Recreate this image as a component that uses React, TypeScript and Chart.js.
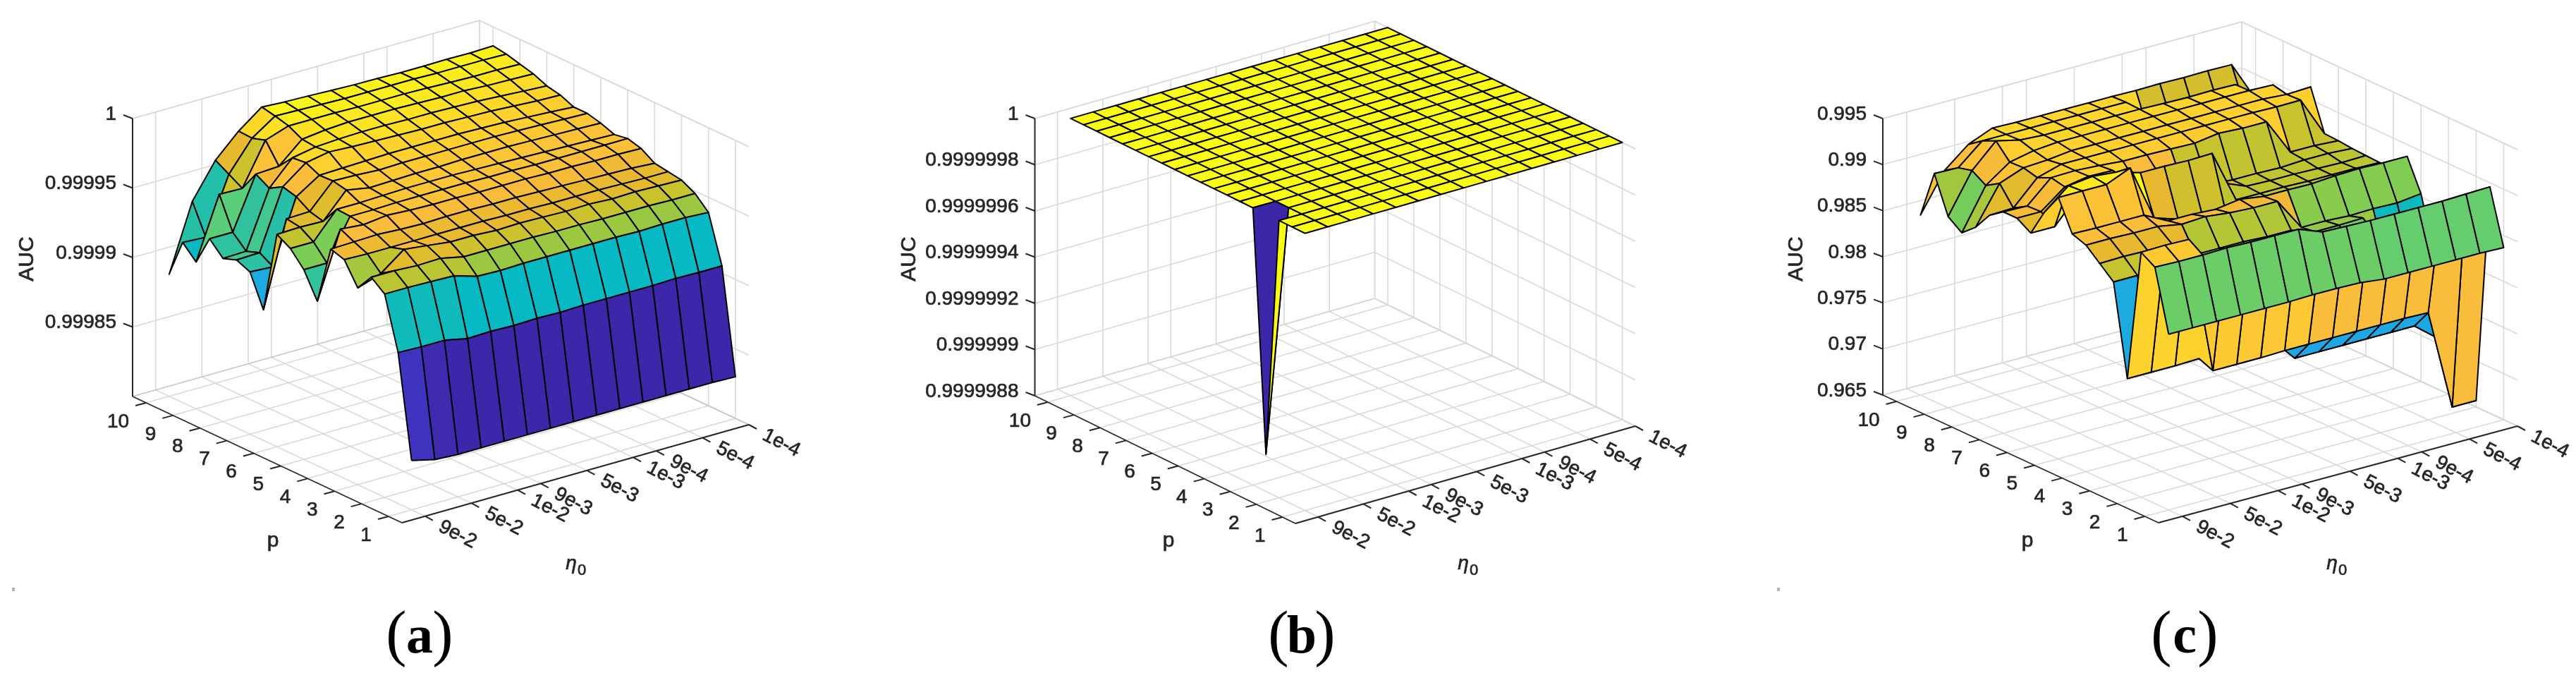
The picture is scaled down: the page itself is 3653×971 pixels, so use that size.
import React, { useEffect, useRef } from 'react';
import { Chart, registerables } from 'chart.js';

Chart.register(...registerables);

const pLabels = ['1', '2', '3', '4', '5', '6', '7', '8', '9', '10'];
const etaLabels = ['9e-2', '5e-2', '1e-2', '9e-3', '5e-3', '1e-3', '9e-4', '5e-4', '1e-4'];
// position of each eta label among the 15 learning rates
const etaLabelIndex = [0, 2, 4, 5, 7, 9, 10, 12, 14];

const zTicksA = [1, 0.99995, 0.9999, 0.99985];
const zLabelsA = ['1', '0.99995', '0.9999', '0.99985'];
const zTicksB = [1, 0.9999998, 0.9999996, 0.9999994, 0.9999992, 0.999999, 0.9999988];
const zLabelsB = ['1', '0.9999998', '0.9999996', '0.9999994', '0.9999992', '0.999999', '0.9999988'];
const zTicksC = [0.995, 0.99, 0.985, 0.98, 0.975, 0.97, 0.965];
const zLabelsC = ['0.995', '0.99', '0.985', '0.98', '0.975', '0.97', '0.965'];

// rows: p = 1, 1.5, ... 10 / columns: eta from 9e-2 down to 1e-4
const aucA = [
  [0.9998355, 0.9998315, 0.9998305, 0.9998305, 0.9998305, 0.9998305, 0.9998305, 0.9998305, 0.9998305, 0.9998305, 0.9998305, 0.9998305, 0.9998305, 0.9998305, 0.9998299],
  [0.9999086, 0.9999081, 0.9999081, 0.9999046, 0.9999051, 0.9999046, 0.9999051, 0.9999046, 0.9999051, 0.9999051, 0.9999051, 0.9999051, 0.9999056, 0.9999051, 0.9999051],
  [0.9999462, 0.9999462, 0.9999457, 0.9999452, 0.9999401, 0.9999396, 0.9999401, 0.9999401, 0.9999401, 0.9999401, 0.9999401, 0.9999396, 0.9999401, 0.9999401, 0.9999391],
  [0.9999538, 0.9999538, 0.9999528, 0.9999533, 0.9999497, 0.9999497, 0.9999497, 0.9999497, 0.9999492, 0.9999492, 0.9999487, 0.9999487, 0.9999487, 0.9999482, 0.9999482],
  [0.9999416, 0.9999472, 0.9999599, 0.9999579, 0.9999558, 0.9999558, 0.9999548, 0.9999553, 0.9999548, 0.9999543, 0.9999548, 0.9999538, 0.9999543, 0.9999538, 0.9999533],
  [0.9999574, 0.9999568, 0.9999568, 0.9999568, 0.9999568, 0.9999568, 0.9999568, 0.9999563, 0.9999563, 0.9999558, 0.9999558, 0.9999558, 0.9999553, 0.9999548, 0.9999548],
  [0.9999604, 0.9999609, 0.9999614, 0.9999604, 0.9999599, 0.9999604, 0.9999604, 0.9999599, 0.9999599, 0.9999594, 0.9999589, 0.9999584, 0.9999579, 0.9999574, 0.9999563],
  [0.9999183, 0.9999655, 0.999964, 0.999966, 0.999965, 0.9999645, 0.9999645, 0.999964, 0.999964, 0.999964, 0.9999634, 0.9999634, 0.9999629, 0.9999629, 0.9999624],
  [0.9999365, 0.9999365, 0.9999655, 0.9999655, 0.999966, 0.999966, 0.999966, 0.999966, 0.9999655, 0.9999655, 0.999965, 0.999965, 0.999965, 0.999965, 0.999965],
  [0.9999472, 0.9999472, 0.999966, 0.999966, 0.9999665, 0.999967, 0.999967, 0.999967, 0.9999665, 0.999966, 0.9999655, 0.999965, 0.9999645, 0.999964, 0.9999634],
  [0.9999528, 0.9999533, 0.9999528, 0.9999706, 0.9999675, 0.999968, 0.9999685, 0.9999685, 0.999969, 0.999969, 0.999969, 0.9999685, 0.999968, 0.9999675, 0.999967],
  [0.9998939, 0.9999548, 0.9999553, 0.9999726, 0.9999721, 0.9999711, 0.9999716, 0.9999716, 0.9999716, 0.9999716, 0.9999716, 0.9999711, 0.9999706, 0.99997, 0.9999695],
  [0.9999167, 0.9999157, 0.9999614, 0.9999721, 0.9999726, 0.9999731, 0.9999736, 0.9999736, 0.9999736, 0.9999736, 0.9999731, 0.9999726, 0.9999716, 0.9999706, 0.9999695],
  [0.9999208, 0.9999213, 0.999964, 0.9999766, 0.9999797, 0.9999787, 0.9999782, 0.9999777, 0.9999772, 0.9999772, 0.9999766, 0.9999761, 0.9999751, 0.9999741, 0.9999736],
  [0.9999173, 0.9999178, 0.9999584, 0.9999756, 0.9999787, 0.9999797, 0.9999802, 0.9999802, 0.9999797, 0.9999797, 0.9999792, 0.9999787, 0.9999777, 0.9999766, 0.9999756],
  [0.9999269, 0.9999269, 0.999964, 0.999965, 0.9999797, 0.9999817, 0.9999827, 0.9999827, 0.9999827, 0.9999822, 0.9999817, 0.9999817, 0.9999807, 0.9999802, 0.9999797],
  [0.9999056, 0.9999497, 0.9999492, 0.9999792, 0.9999848, 0.9999848, 0.9999848, 0.9999843, 0.9999843, 0.9999843, 0.9999838, 0.9999832, 0.9999827, 0.9999827, 0.9999822],
  [0.9999152, 0.9999142, 0.9999548, 0.9999761, 0.9999873, 0.9999868, 0.9999863, 0.9999858, 0.9999858, 0.9999858, 0.9999858, 0.9999853, 0.9999853, 0.9999853, 0.9999848],
  [0.9998878, 0.9999355, 0.9999604, 0.9999766, 0.9999893, 0.9999883, 0.9999878, 0.9999871, 0.9999865, 0.9999863, 0.9999858, 0.9999858, 0.999986, 0.9999858, 0.9999863],
];

const aucB = [
  [1, 1, 1, 1, 1, 1, 1, 1, 1, 1, 1, 1, 1, 1, 1],
  [1, 1, 1, 1, 1, 1, 1, 1, 1, 1, 1, 1, 1, 1, 1],
  [1, 1, 1, 1, 1, 1, 1, 1, 1, 1, 1, 1, 1, 1, 1],
  [0.99999896, 1, 1, 1, 1, 1, 1, 1, 1, 1, 1, 1, 1, 1, 1],
  [1, 1, 1, 1, 1, 1, 1, 1, 1, 1, 1, 1, 1, 1, 1],
  [1, 1, 1, 1, 1, 1, 1, 1, 1, 1, 1, 1, 1, 1, 1],
  [1, 1, 1, 1, 1, 1, 1, 1, 1, 1, 1, 1, 1, 1, 1],
  [1, 1, 1, 1, 1, 1, 1, 1, 1, 1, 1, 1, 1, 1, 1],
  [1, 1, 1, 1, 1, 1, 1, 1, 1, 1, 1, 1, 1, 1, 1],
  [1, 1, 1, 1, 1, 1, 1, 1, 1, 1, 1, 1, 1, 1, 1],
  [1, 1, 1, 1, 1, 1, 1, 1, 1, 1, 1, 1, 1, 1, 1],
  [1, 1, 1, 1, 1, 1, 1, 1, 1, 1, 1, 1, 1, 1, 1],
  [1, 1, 1, 1, 1, 1, 1, 1, 1, 1, 1, 1, 1, 1, 1],
  [1, 1, 1, 1, 1, 1, 1, 1, 1, 1, 1, 1, 1, 1, 1],
  [1, 1, 1, 1, 1, 1, 1, 1, 1, 1, 1, 1, 1, 1, 1],
  [1, 1, 1, 1, 1, 1, 1, 1, 1, 1, 1, 1, 1, 1, 1],
  [1, 1, 1, 1, 1, 1, 1, 1, 1, 1, 1, 1, 1, 1, 1],
  [1, 1, 1, 1, 1, 1, 1, 1, 1, 1, 1, 1, 1, 1, 1],
  [1, 1, 1, 1, 1, 1, 1, 1, 1, 1, 1, 1, 1, 1, 1],
];

const aucC = [
  [0.98406, 0.98406, 0.98406, 0.98406, 0.98406, 0.98406, 0.98413, 0.98413, 0.98406, 0.98375, 0.98375, 0.98375, 0.98375, 0.98375, 0.98367],
  [0.99064, 0.99056, 0.99056, 0.99064, 0.99056, 0.99056, 0.99056, 0.98957, 0.98949, 0.98941, 0.98941, 0.98941, 0.98941, 0.98949, 0.98957],
  [0.99156, 0.99163, 0.99156, 0.97663, 0.97663, 0.97663, 0.97671, 0.97671, 0.97671, 0.97671, 0.97671, 0.97671, 0.97663, 0.96569, 0.96569],
  [0.97717, 0.97717, 0.97717, 0.97724, 0.97724, 0.97724, 0.97724, 0.97449, 0.97449, 0.97449, 0.97449, 0.97449, 0.97449, 0.97242, 0.97242],
  [0.98696, 0.98696, 0.98696, 0.98696, 0.98696, 0.98696, 0.98413, 0.98413, 0.98413, 0.98413, 0.98413, 0.98413, 0.98413, 0.98413, 0.98413],
  [0.98827, 0.98834, 0.98827, 0.98834, 0.98643, 0.98643, 0.98643, 0.98628, 0.98628, 0.98543, 0.98543, 0.98551, 0.97954, 0.97954, 0.97954],
  [0.98957, 0.98957, 0.98949, 0.98949, 0.98903, 0.98918, 0.98888, 0.98872, 0.98872, 0.9852, 0.9852, 0.98505, 0.98513, 0.98505, 0.98536],
  [0.9901, 0.99003, 0.99003, 0.99003, 0.98872, 0.98872, 0.98857, 0.98895, 0.98857, 0.98857, 0.98853, 0.98872, 0.9888, 0.98872, 0.98872],
  [0.99335, 0.99336, 0.99335, 0.99446, 0.98834, 0.9875, 0.98735, 0.98681, 0.98673, 0.98673, 0.98673, 0.98673, 0.98673, 0.98673, 0.98673],
  [0.9911, 0.99324, 0.99355, 0.99332, 0.99255, 0.99255, 0.99247, 0.99255, 0.98681, 0.98681, 0.98681, 0.98673, 0.98673, 0.98673, 0.98666],
  [0.98811, 0.98811, 0.99102, 0.9914, 0.98796, 0.98796, 0.98796, 0.98796, 0.98796, 0.98689, 0.98681, 0.98681, 0.98673, 0.98666, 0.98673],
  [0.98903, 0.98903, 0.99102, 0.99148, 0.9914, 0.98934, 0.98934, 0.98719, 0.98704, 0.98689, 0.98689, 0.98681, 0.98696, 0.98696, 0.98681],
  [0.98903, 0.98895, 0.99133, 0.9914, 0.99125, 0.99102, 0.99102, 0.99094, 0.99087, 0.99125, 0.9911, 0.9911, 0.98712, 0.98712, 0.98696],
  [0.98796, 0.98804, 0.99064, 0.9914, 0.9914, 0.9914, 0.9914, 0.9914, 0.9914, 0.9914, 0.9914, 0.9914, 0.99133, 0.99136, 0.98704],
  [0.98597, 0.99003, 0.99102, 0.99117, 0.99148, 0.99148, 0.99148, 0.99148, 0.99148, 0.99148, 0.99148, 0.99148, 0.99148, 0.99129, 0.9914],
  [0.98467, 0.98911, 0.99094, 0.99148, 0.99171, 0.99171, 0.99171, 0.99171, 0.99171, 0.99171, 0.99171, 0.99171, 0.99171, 0.99163, 0.98796],
  [0.98574, 0.99003, 0.99255, 0.99194, 0.99179, 0.99179, 0.99179, 0.99179, 0.99179, 0.99171, 0.99167, 0.99171, 0.99167, 0.98796, 0.98758],
  [0.98972, 0.98964, 0.99186, 0.99186, 0.99186, 0.99186, 0.99186, 0.99186, 0.99186, 0.98758, 0.98758, 0.98758, 0.98758, 0.98758, 0.98735],
  [0.98452, 0.98865, 0.99079, 0.99186, 0.99179, 0.99179, 0.99179, 0.99179, 0.99179, 0.99175, 0.99179, 0.99175, 0.99179, 0.99175, 0.98735],
];

// parula-like colormap as seen in the figure: stop, r, g, b
const colorStops = [
  [0, 60, 38, 168],
  [0.1, 70, 75, 235],
  [0.3, 35, 150, 240],
  [0.4, 28, 170, 225],
  [0.47, 5, 185, 195],
  [0.54, 40, 192, 165],
  [0.6, 85, 205, 125],
  [0.67, 125, 205, 85],
  [0.69, 155, 200, 65],
  [0.745, 200, 195, 45],
  [0.78, 228, 185, 45],
  [0.82, 250, 187, 60],
  [0.9, 253, 210, 45],
  [1, 249, 251, 21],
];

const colormap = (t: number) => {
  for (let i = 1; i < colorStops.length; i++) {
    const a = colorStops[i - 1];
    const b = colorStops[i];
    if (t <= b[0]) {
      const k = (t - a[0]) / (b[0] - a[0]);
      return `rgb(${a[1] + (b[1] - a[1]) * k},${a[2] + (b[2] - a[2]) * k},${a[3] + (b[3] - a[3]) * k})`;
    }
  }
  return 'rgb(249,251,21)';
};

interface PanelConfig {
  auc: number[][];
  zTicks: number[];
  zLabels: string[];
  zMin: number;
  zMax: number;
  left: number; // canvas left edge
  width: number;
  front: { x: number; y: number };
  back: { x: number; y: number }; // p = 10.5 end of the eta = first edge
  right: { x: number; y: number };
  zHeight: number;
  caption: string;
  captionX: number;
  aucX: number;
  pX: number;
  etaX: number;
  speckX?: number;
}

const panels: PanelConfig[] = [
  {
    auc: aucA, zTicks: zTicksA, zLabels: zLabelsA, zMin: 0.9998, zMax: 1,
    left: 0, width: 1220,
    front: { x: 570, y: 741 }, back: { x: 188, y: 562 }, right: { x: 1062, y: 602 }, zHeight: 394,
    caption: 'a', captionX: 595, aucX: 39, pX: 387, etaX: 817, speckX: 17,
  },
  {
    auc: aucB, zTicks: zTicksB, zLabels: zLabelsB, zMin: 0.9999988, zMax: 1,
    left: 1220, width: 1220,
    front: { x: 1837, y: 742 }, back: { x: 1467.5, y: 561 }, right: { x: 2319, y: 604 }, zHeight: 393,
    caption: 'b', captionX: 1846, aucX: 1290, pX: 1657, etaX: 2082,
  },
  {
    auc: aucC, zTicks: zTicksC, zLabels: zLabelsC, zMin: 0.965, zMax: 0.995,
    left: 2440, width: 1213,
    front: { x: 3061, y: 741 }, back: { x: 2670, y: 560 }, right: { x: 3570, y: 604 }, zHeight: 392,
    caption: 'c', captionX: 3098, aucX: 2548, pX: 2875, etaX: 3314, speckX: 2520,
  },
];

const P_RANGE = 10; // p axis runs 0.5 .. 10.5
const ETA_RANGE = 15; // eta axis runs 0 .. 15, values sit on 1 .. 15
const GRID = '#d9d9d9';
const AXIS = '#262626';

const project = (cfg: PanelConfig, p: number, eta: number, z: number) => {
  const u = (p - 0.5) / P_RANGE;
  const v = eta / ETA_RANGE;
  const w = (z - cfg.zMin) / (cfg.zMax - cfg.zMin);
  return {
    x: cfg.front.x + u * (cfg.back.x - cfg.front.x) + v * (cfg.right.x - cfg.front.x),
    y: cfg.front.y + u * (cfg.back.y - cfg.front.y) + v * (cfg.right.y - cfg.front.y) - w * cfg.zHeight,
  };
};

const lineSet = (data: { x: number; y: number }[], color: string, width: number) => ({
  data,
  borderColor: color,
  borderWidth: width,
  pointRadius: 0,
  tension: 0,
  fill: false,
  clip: false,
});

const buildDatasets = (cfg: PanelConfig) => {
  const sets: any[] = [];
  const flat = cfg.auc.flat();
  const lo = Math.min(...flat);
  const hi = Math.max(...flat);
  const rowToP = (r: number) => 1 + r / 2;

  // nearest cell first: chart.js paints the last dataset first
  for (let r = 0; r < cfg.auc.length - 1; r++) {
    for (let c = 0; c < cfg.auc[r].length - 1; c++) {
      const corners = [
        project(cfg, rowToP(r), c + 1, cfg.auc[r][c]),
        project(cfg, rowToP(r), c + 2, cfg.auc[r][c + 1]),
        project(cfg, rowToP(r + 1), c + 2, cfg.auc[r + 1][c + 1]),
        project(cfg, rowToP(r + 1), c + 1, cfg.auc[r + 1][c]),
      ];
      sets.push({
        data: [...corners, corners[0]],
        borderColor: '#000000',
        borderWidth: 2,
        borderJoinStyle: 'round',
        backgroundColor: colormap((cfg.auc[r][c] - lo) / (hi - lo || 1)),
        pointRadius: 0,
        tension: 0,
        fill: 'shape',
        clip: false,
      });
    }
  }

  const { zMin, zMax } = cfg;
  const pEnd = 0.5 + P_RANGE;

  // axes and tick marks
  sets.push(lineSet([project(cfg, pEnd, 0, zMin), project(cfg, pEnd, 0, zMax)], AXIS, 2));
  sets.push(lineSet([project(cfg, pEnd, 0, zMin), project(cfg, 0.5, 0, zMin)], AXIS, 1.6));
  sets.push(lineSet([project(cfg, 0.5, 0, zMin), project(cfg, 0.5, ETA_RANGE, zMin)], AXIS, 2.2));
  cfg.zTicks.forEach((z) => {
    const a = project(cfg, pEnd, 0, z);
    sets.push(lineSet([a, { x: a.x - 13, y: a.y - 5 }], AXIS, 2));
  });
  pLabels.forEach((label) => {
    const a = project(cfg, Number(label), 0, zMin);
    sets.push(lineSet([a, { x: a.x - 15, y: a.y + 4 }], AXIS, 2));
  });
  etaLabelIndex.forEach((i) => {
    const a = project(cfg, 0.5, i + 1, zMin);
    sets.push(lineSet([a, { x: a.x + 11, y: a.y + 6 }], AXIS, 2));
  });

  // walls and floor
  cfg.zTicks.forEach((z) => {
    sets.push(lineSet([project(cfg, pEnd, 0, z), project(cfg, pEnd, ETA_RANGE, z), project(cfg, 0.5, ETA_RANGE, z)], GRID, 1.6));
  });
  sets.push(lineSet([project(cfg, pEnd, 0, zMax), project(cfg, pEnd, ETA_RANGE, zMax), project(cfg, 0.5, ETA_RANGE, zMax)], GRID, 1.6));
  sets.push(lineSet([project(cfg, pEnd, ETA_RANGE, zMin), project(cfg, pEnd, ETA_RANGE, zMax)], GRID, 1.6));
  sets.push(lineSet([project(cfg, pEnd, 0, zMin), project(cfg, pEnd, ETA_RANGE, zMin), project(cfg, 0.5, ETA_RANGE, zMin)], '#c4c4c4', 1.6));
  pLabels.forEach((label) => {
    const p = Number(label);
    sets.push(lineSet([project(cfg, p, 0, zMin), project(cfg, p, ETA_RANGE, zMin), project(cfg, p, ETA_RANGE, zMax)], GRID, 1.6));
  });
  etaLabelIndex.forEach((i) => {
    sets.push(lineSet([project(cfg, 0.5, i + 1, zMin), project(cfg, pEnd, i + 1, zMin), project(cfg, pEnd, i + 1, zMax)], GRID, 1.6));
  });
  return sets;
};

const labelsPlugin = (cfg: PanelConfig) => ({
  id: 'surfaceLabels',
  afterDraw(chart: any) {
    const { ctx } = chart;
    const sx = (v: number) => chart.scales.x.getPixelForValue(v);
    const sy = (v: number) => chart.scales.y.getPixelForValue(v);
    const sans = '"Liberation Sans", Arial, sans-serif';
    const serif = '"Liberation Serif", "Times New Roman", serif';
    // the scan of the figure has heavier glyphs than a plain fill
    const put = (text: string, x: number, y: number) => {
      ctx.fillText(text, x, y);
      ctx.strokeText(text, x, y);
    };
    ctx.save();
    ctx.fillStyle = AXIS;
    ctx.strokeStyle = AXIS;
    ctx.lineWidth = 0.7;
    ctx.textBaseline = 'middle';
    ctx.font = `28px ${sans}`;

    ctx.textAlign = 'right';
    cfg.zTicks.forEach((z, i) => {
      const a = project(cfg, 10.5, 0, z);
      put(cfg.zLabels[i], sx(a.x - 23), sy(a.y - 6));
    });
    pLabels.forEach((label) => {
      const a = project(cfg, Number(label), 0, cfg.zMin);
      put(label, sx(a.x - 24), sy(a.y + 27));
    });

    ctx.textAlign = 'center';
    etaLabels.forEach((label, i) => {
      const a = project(cfg, 0.5, etaLabelIndex[i] + 1, cfg.zMin);
      ctx.save();
      ctx.translate(sx(a.x + 46), sy(a.y + 26));
      ctx.rotate((27 * Math.PI) / 180);
      put(label, 0, 0);
      ctx.restore();
    });

    ctx.save();
    ctx.translate(sx(cfg.aucX), sy(367));
    ctx.rotate(-Math.PI / 2);
    ctx.font = `30px ${sans}`;
    put('AUC', 0, 0);
    ctx.restore();

    ctx.font = `30px ${sans}`;
    put('p', sx(cfg.pX), sy(767));

    ctx.font = `italic 28px ${sans}`;
    put('η', sx(cfg.etaX - 7), sy(799));
    ctx.font = `22px ${sans}`;
    put('0', sx(cfg.etaX + 8), sy(809));

    // caption: upright brackets around a bold letter
    ctx.fillStyle = '#000000';
    ctx.textAlign = 'center';
    ctx.font = `88px ${serif}`;
    ctx.fillText('(', sx(cfg.captionX - 33), sy(904));
    ctx.fillText(')', sx(cfg.captionX + 33), sy(904));
    ctx.font = `bold 76px ${serif}`;
    ctx.fillText(cfg.caption, sx(cfg.captionX), sy(905));

    if (cfg.speckX !== undefined) {
      ctx.fillStyle = '#b4b4ac';
      ctx.fillRect(sx(cfg.speckX), sy(833), 4, 5);
    }
    ctx.restore();
  },
});

const SurfacePanel: React.FC<{ cfg: PanelConfig }> = ({ cfg }) => {
  const canvasRef = useRef<HTMLCanvasElement>(null);

  useEffect(() => {
    if (!canvasRef.current) return;
    const chart = new Chart(canvasRef.current, {
      type: 'line',
      data: { datasets: buildDatasets(cfg) },
      options: {
        animation: false,
        responsive: false,
        devicePixelRatio: 1,
        layout: { padding: 0 },
        plugins: { legend: { display: false }, tooltip: { enabled: false }, title: { display: false } },
        scales: {
          x: { type: 'linear', display: false, min: cfg.left, max: cfg.left + cfg.width },
          y: { type: 'linear', display: false, min: 0, max: 971, reverse: true },
        },
      },
      plugins: [labelsPlugin(cfg)],
    } as any);
    return () => chart.destroy();
  }, [cfg]);

  return (
    <canvas
      ref={canvasRef}
      width={cfg.width}
      height={971}
      style={{ position: 'absolute', left: cfg.left, top: 0, width: cfg.width, height: 971 }}
    />
  );
};

export default function App() {
  return (
    <div style={{ position: 'absolute', left: 0, top: 0, width: 3653, height: 971, background: '#ffffff', overflow: 'hidden' }}>
      {panels.map((cfg) => (
        <SurfacePanel key={cfg.caption} cfg={cfg} />
      ))}
    </div>
  );
}
